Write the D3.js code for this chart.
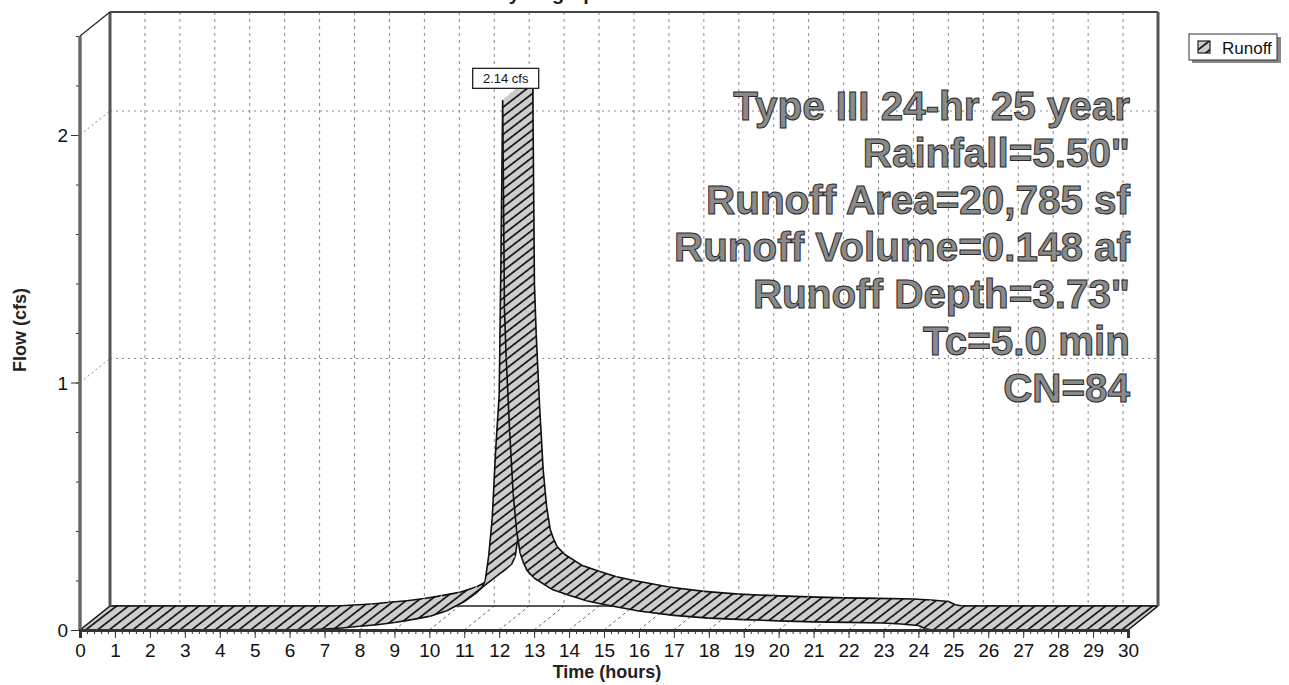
<!DOCTYPE html>
<html>
<head>
<meta charset="utf-8">
<script src="https://cdn.jsdelivr.net/npm/d3@7/dist/d3.min.js"></script>
<style>
  body { margin: 0; background: #fff; }
  svg { display: block; }
  text { font-family: "Liberation Sans", Arial, sans-serif; }
</style>
</head>
<body>
<svg id="chart" width="1289" height="685"></svg>
<script>
// Runoff hydrograph, hours vs cfs
const timeHours = [0, 6.5, 7.0, 7.5, 8.0, 8.5, 9.0, 9.5, 10.0, 10.5, 11.0, 11.3, 11.5, 11.6, 11.7, 11.8, 11.9, 12.0, 12.05, 12.1,
                   12.15, 12.2, 12.3, 12.4, 12.5, 12.6, 12.7, 12.8, 13.0, 13.5, 14.0, 14.5, 15.0, 16.0, 17.0, 18.0, 19.0, 20.0,
                   21.0, 22.0, 23.0, 23.5, 24.0, 24.2, 24.4, 30];
const flowCfs   = [0, 0, 0.004, 0.008, 0.015, 0.021, 0.03, 0.042, 0.055, 0.078, 0.115, 0.145, 0.17, 0.2, 0.3, 0.45, 0.73, 0.95, 1.5, 2.14,
                   1.3, 1.1, 0.8, 0.55, 0.4, 0.31, 0.27, 0.24, 0.21, 0.165, 0.14, 0.118, 0.103, 0.077, 0.059, 0.048, 0.042, 0.037,
                   0.033, 0.031, 0.028, 0.024, 0.018, 0.005, 0, 0];

const peakLabel = "2.14 cfs";
const peakTime = 12.1;
const peakFlow = 2.14;

const xTickValues = [0, 1, 2, 3, 4, 5, 6, 7, 8, 9, 10, 11, 12, 13, 14, 15, 16, 17, 18, 19, 20, 21, 22, 23, 24, 25, 26, 27, 28, 29, 30];
const yTickValues = [0, 1, 2];
const yGridValues = [1, 2];

const chartTitle = "Hydrograph";
const xTitle = "Time  (hours)";
const yTitle = "Flow  (cfs)";
const seriesName = "Runoff";

const noteLines = [
  "Type III 24-hr 25 year",
  "Rainfall=5.50\"",
  "Runoff Area=20,785 sf",
  "Runoff Volume=0.148 af",
  "Runoff Depth=3.73\"",
  "Tc=5.0 min",
  "CN=84"
];

// ---- layout ----
const svg = d3.select("#chart");
const x = d3.scaleLinear().domain([0, 30]).range([80, 1128]);
const y = d3.scaleLinear().domain([0, 2.4]).range([630, 36]);
const DX = 30, DY = -24;   // depth offset of the 3D box

const front = (t, v) => [x(t), y(v)];
const back  = (t, v) => [x(t) + DX, y(v) + DY];

// hatch fill for the runoff ribbon
const defs = svg.append("defs");
const pat = defs.append("pattern")
  .attr("id", "hatch")
  .attr("patternUnits", "userSpaceOnUse")
  .attr("width", 10).attr("height", 7.2)
  .attr("patternTransform", "rotate(-37.7)");
pat.append("rect").attr("width", 10).attr("height", 7.2).attr("fill", "#cdcdcd");
pat.append("line").attr("x1", 0).attr("x2", 10).attr("y1", 3.6).attr("y2", 3.6)
  .attr("stroke", "#111").attr("stroke-width", 1.7);

// title along the top edge (mostly above the page)
svg.append("text").attr("x", 551).attr("y", 0)
  .attr("text-anchor", "middle").attr("font-size", 20).attr("font-weight", "bold")
  .attr("fill", "#222").text(chartTitle);

// back wall
const wallLeft = x(0) + DX, wallRight = x(30) + DX;
const wallTop = y(2.4) + DY, wallBottom = y(0) + DY;
svg.append("rect").attr("x", wallLeft).attr("y", wallTop)
  .attr("width", wallRight - wallLeft).attr("height", wallBottom - wallTop).attr("fill", "#fff");

const grid = svg.append("g").attr("fill", "none");
// vertical grid on the back wall
grid.selectAll("line.v").data(xTickValues.filter(t => t > 0 && t < 30)).join("line")
  .attr("class", "v")
  .attr("x1", d => x(d) + DX).attr("x2", d => x(d) + DX)
  .attr("y1", wallTop).attr("y2", wallBottom)
  .attr("stroke", "#8a8a8a").attr("stroke-width", 1).attr("stroke-dasharray", "3,4");
// horizontal grid on the back wall
grid.selectAll("line.h").data(yGridValues).join("line")
  .attr("class", "h")
  .attr("x1", wallLeft).attr("x2", wallRight)
  .attr("y1", d => y(d) + DY).attr("y2", d => y(d) + DY)
  .attr("stroke", "#888").attr("stroke-width", 1).attr("stroke-dasharray", "2,4");
// side-wall links from the y axis to the back wall
grid.selectAll("line.s").data(yGridValues).join("line")
  .attr("class", "s")
  .attr("x1", x(0)).attr("x2", x(0) + DX)
  .attr("y1", d => y(d)).attr("y2", d => y(d) + DY)
  .attr("stroke", "#888").attr("stroke-width", 1).attr("stroke-dasharray", "2,3");
// floor grid
grid.selectAll("line.f").data(xTickValues.filter(t => t > 0 && t < 30)).join("line")
  .attr("class", "f")
  .attr("x1", d => x(d)).attr("x2", d => x(d) + DX)
  .attr("y1", y(0)).attr("y2", y(0) + DY)
  .attr("stroke", "#666").attr("stroke-width", 1).attr("stroke-dasharray", "3,3");
// back edge of the floor
svg.append("line").attr("x1", wallLeft).attr("x2", wallRight)
  .attr("y1", wallBottom).attr("y2", wallBottom)
  .attr("stroke", "#222").attr("stroke-width", 1.5);

// runoff ribbon, drawn segment by segment from left to right
const series = timeHours.map((t, i) => ({ t, v: flowCfs[i] }));
const ribbon = svg.append("g");
const line = d3.line();
for (let i = 0; i < series.length - 1; i++) {
  const a = series[i], b = series[i + 1];
  const quad = [front(a.t, a.v), front(b.t, b.v), back(b.t, b.v), back(a.t, a.v)];
  ribbon.append("path").attr("d", line(quad) + "Z")
    .attr("fill", "url(#hatch)").attr("stroke", "url(#hatch)").attr("stroke-width", 0.6);
  ribbon.append("path").attr("d", line([front(a.t, a.v), front(b.t, b.v)]))
    .attr("fill", "none").attr("stroke", "#111").attr("stroke-width", 1.6);
  ribbon.append("path").attr("d", line([back(a.t, a.v), back(b.t, b.v)]))
    .attr("fill", "none").attr("stroke", "#111").attr("stroke-width", 1.6);
}
const first = series[0], last = series[series.length - 1];
[first, last].forEach(p => {
  ribbon.append("path").attr("d", line([front(p.t, p.v), back(p.t, p.v)]))
    .attr("fill", "none").attr("stroke", "#111").attr("stroke-width", 1.6);
});

// box frame
const frame = svg.append("g").attr("fill", "none");
frame.append("line").attr("x1", wallLeft).attr("x2", wallLeft).attr("y1", wallTop).attr("y2", wallBottom)
  .attr("stroke", "#555").attr("stroke-width", 3);
frame.append("line").attr("x1", wallLeft).attr("x2", wallRight).attr("y1", wallTop).attr("y2", wallTop)
  .attr("stroke", "#444").attr("stroke-width", 2);
frame.append("line").attr("x1", wallRight).attr("x2", wallRight).attr("y1", wallTop).attr("y2", wallBottom)
  .attr("stroke", "#555").attr("stroke-width", 3);
frame.append("line").attr("x1", x(0)).attr("x2", wallLeft).attr("y1", y(2.4)).attr("y2", wallTop)
  .attr("stroke", "#222").attr("stroke-width", 1.3);

// y axis (front left edge)
const yAxisG = svg.append("g").attr("transform", `translate(${x(0)},0)`);
yAxisG.call(d3.axisLeft(y).tickValues(d3.range(0, 2.41, 0.2)).tickSize(4).tickFormat(""));
yAxisG.call(g => g.select(".domain").remove());
const yMajor = svg.append("g").attr("transform", `translate(${x(0)},0)`)
  .call(d3.axisLeft(y).tickValues(yTickValues).tickSize(9).tickPadding(3).tickFormat(d3.format("d")));
yMajor.select(".domain").remove();
yMajor.selectAll("text").attr("font-size", 19).attr("font-family", "Liberation Sans, Arial, sans-serif")
  .attr("fill", "#111").attr("dy", "0.36em");
svg.selectAll(".tick line").attr("stroke", "#333");
svg.append("line").attr("x1", x(0)).attr("x2", x(0)).attr("y1", y(2.4)).attr("y2", y(0))
  .attr("stroke", "#6a6a6a").attr("stroke-width", 3.5);

// x axis (front bottom edge)
const xMinor = svg.append("g").attr("transform", `translate(0,${y(0)})`)
  .call(d3.axisBottom(x).tickValues(d3.range(0, 30.01, 0.2)).tickSize(4).tickFormat(""));
xMinor.select(".domain").remove();
xMinor.selectAll("line").attr("stroke", "#333");
const xAxisG = svg.append("g").attr("transform", `translate(0,${y(0)})`)
  .call(d3.axisBottom(x).tickValues(xTickValues).tickSize(8).tickPadding(6).tickFormat(d3.format("d")));
xAxisG.select(".domain").attr("stroke", "#333").attr("stroke-width", 3);
xAxisG.selectAll("line").attr("stroke", "#333");
xAxisG.selectAll("text").attr("font-size", 19).attr("font-family", "Liberation Sans, Arial, sans-serif").attr("fill", "#111");

// axis titles
svg.append("text").attr("x", 607).attr("y", 678).attr("text-anchor", "middle")
  .attr("font-size", 18).attr("font-weight", "bold").attr("fill", "#222").text(xTitle);
svg.append("text").attr("transform", "translate(26,330) rotate(-90)").attr("text-anchor", "middle")
  .attr("font-size", 18).attr("font-weight", "bold").attr("fill", "#222").text(yTitle);

// storm annotation
svg.append("g").selectAll("text").data(noteLines).join("text")
  .attr("x", 1130).attr("y", (d, i) => 120 + i * 47)
  .attr("text-anchor", "end").attr("font-size", 40.4).attr("font-weight", "bold")
  .attr("fill", "#8a8a8a").attr("stroke", "#2a2a2a").attr("stroke-width", 1)
  .text(d => d);

// peak value label
const px = x(peakTime) + 3, py = y(peakFlow) - 12;
const lbl = svg.append("g");
lbl.append("rect").attr("x", px - 33).attr("y", py - 20).attr("width", 66).attr("height", 20)
  .attr("fill", "#fff").attr("stroke", "#222").attr("stroke-width", 1.3);
lbl.append("text").attr("x", px).attr("y", py - 5).attr("text-anchor", "middle")
  .attr("font-size", 13).attr("fill", "#111").text(peakLabel);

// legend
const lg = svg.append("g").attr("transform", "translate(1189,34)");
lg.append("rect").attr("x", 3).attr("y", 3).attr("width", 89).attr("height", 26).attr("fill", "#888");
lg.append("rect").attr("width", 88).attr("height", 26).attr("fill", "#fff").attr("stroke", "#333").attr("stroke-width", 1);
lg.append("rect").attr("x", 9).attr("y", 7).attr("width", 12).attr("height", 12)
  .attr("fill", "url(#hatch)").attr("stroke", "#222").attr("stroke-width", 1.2);
lg.append("text").attr("x", 33).attr("y", 20).attr("font-size", 17).attr("fill", "#111").text(seriesName);
</script>
</body>
</html>
